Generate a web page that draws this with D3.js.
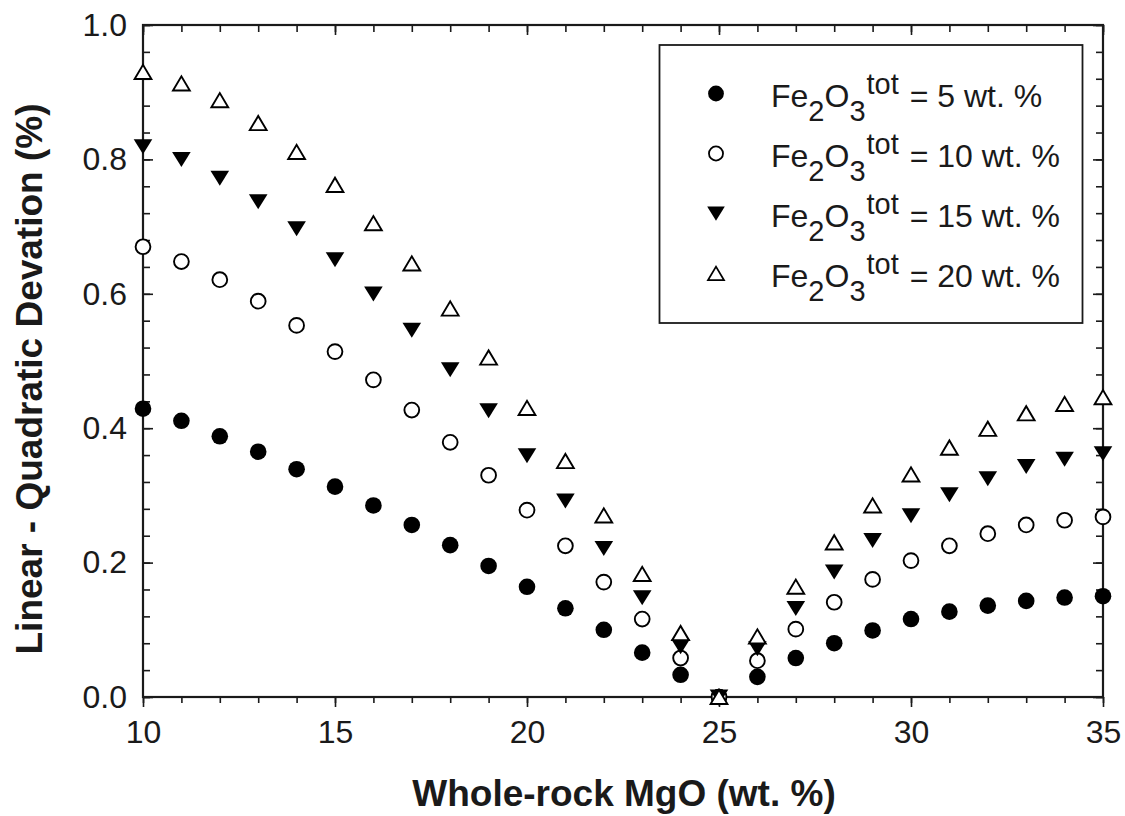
<!DOCTYPE html>
<html>
<head>
<meta charset="utf-8">
<script src="https://cdn.jsdelivr.net/npm/d3@7"></script>
<style>
  html, body { margin: 0; padding: 0; background: #fff; }
  svg { display: block; font-family: "Liberation Sans", Arial, Helvetica, sans-serif; }
</style>
</head>
<body>
<svg id="chart" width="1125" height="816"></svg>
<script>
// Whole-rock MgO (wt. %)
const mgo = [10, 11, 12, 13, 14, 15, 16, 17, 18, 19, 20, 21, 22, 23, 24, 25, 26, 27, 28, 29, 30, 31, 32, 33, 34, 35];

// Linear minus quadratic deviation (%) for each total Fe2O3 content
const fe5  = [0.429, 0.411, 0.388, 0.365, 0.339, 0.313, 0.285, 0.256, 0.226, 0.195, 0.164, 0.132, 0.100, 0.066, 0.033, 0.000, 0.030, 0.058, 0.080, 0.099, 0.116, 0.127, 0.136, 0.143, 0.148, 0.150];
const fe10 = [0.670, 0.648, 0.621, 0.589, 0.553, 0.514, 0.472, 0.427, 0.379, 0.330, 0.278, 0.225, 0.171, 0.116, 0.058, 0.000, 0.054, 0.101, 0.141, 0.175, 0.203, 0.225, 0.243, 0.256, 0.263, 0.268];
const fe15 = [0.819, 0.800, 0.772, 0.737, 0.697, 0.651, 0.600, 0.546, 0.487, 0.426, 0.359, 0.292, 0.221, 0.148, 0.075, 0.000, 0.072, 0.132, 0.186, 0.233, 0.270, 0.301, 0.325, 0.343, 0.354, 0.362];
const fe20 = [0.930, 0.913, 0.888, 0.854, 0.811, 0.762, 0.705, 0.645, 0.578, 0.505, 0.430, 0.351, 0.270, 0.183, 0.095, 0.000, 0.090, 0.164, 0.230, 0.285, 0.331, 0.371, 0.399, 0.422, 0.436, 0.446];

const seriesValues = [fe5, fe10, fe15, fe20];
const seriesFe = ["5", "10", "15", "20"];
const seriesSymbols = ["filledCircle", "openCircle", "filledDown", "openUp"];

const xTickValues = [10, 15, 20, 25, 30, 35];
const yTickValues = [0.0, 0.2, 0.4, 0.6, 0.8, 1.0];

const xTitle = "Whole-rock MgO (wt. %)";
const yTitle = "Linear - Quadratic Devation (%)";

const svg = d3.select("#chart");
const ink = "#1a1a1a";

const plotLeft = 143, plotRight = 1103, plotTop = 25, plotBottom = 697;
const x = d3.scaleLinear().domain([10, 35]).range([plotLeft, plotRight]);
const y = d3.scaleLinear().domain([0, 1]).range([plotBottom, plotTop]);

// symbol path generators (centred on 0,0)
function symbolPath(kind) {
  switch (kind) {
    case "filledCircle": { const p = d3.path(); p.arc(0, 0, 8.3, 0, 2 * Math.PI); return p.toString(); }
    case "openCircle":   { const p = d3.path(); p.arc(0, 0, 7.4, 0, 2 * Math.PI); return p.toString(); }
    case "filledDown":   return "M-9.3,-7.4L9.3,-7.4L0,7.6Z";
    case "openUp":       return "M-8.4,7L8.4,7L0,-7.2Z";
  }
}
function symbolStyle(sel, kind) {
  if (kind === "filledCircle" || kind === "filledDown") {
    sel.attr("fill", "#000").attr("stroke", "none");
  } else {
    sel.attr("fill", "#fff").attr("stroke", "#000").attr("stroke-width", 1.9);
  }
}

// tick positions
const minorX = d3.range(10, 35.001, 1);
const minorY = d3.range(0, 1.0001, 0.04).map(v => +v.toFixed(2));
const tickStroke = (g) => g.selectAll(".tick line").attr("stroke", ink).attr("stroke-width", 1.6);

// bottom axis: outward ticks with labels
const gBottom = svg.append("g").attr("transform", `translate(0,${plotBottom})`);
gBottom.call(d3.axisBottom(x).tickValues(minorX).tickSize(6).tickSizeOuter(0).tickFormat(""));
gBottom.append("g").call(d3.axisBottom(x).tickValues(xTickValues).tickSize(10).tickSizeOuter(0)
  .tickPadding(13).tickFormat(d3.format("d")));
gBottom.selectAll(".domain").remove();
tickStroke(gBottom);
gBottom.selectAll("text").attr("font-size", 32).attr("fill", ink).attr("font-family", null);

// left axis: inward ticks with labels
const gLeft = svg.append("g").attr("transform", `translate(${plotLeft},0)`);
gLeft.call(d3.axisLeft(y).tickValues(minorY).tickSize(-7).tickSizeOuter(0).tickFormat(""));
gLeft.append("g").call(d3.axisLeft(y).tickValues(yTickValues).tickSize(-10).tickSizeOuter(0)
  .tickPadding(16).tickFormat(d3.format(".1f")));
gLeft.selectAll(".domain").remove();
tickStroke(gLeft);
gLeft.selectAll("text").attr("font-size", 32).attr("fill", ink).attr("font-family", null);

// top axis: inward ticks, no labels
const gTop = svg.append("g").attr("transform", `translate(0,${plotTop})`);
gTop.call(d3.axisTop(x).tickValues(minorX).tickSize(-7).tickSizeOuter(0).tickFormat(""));
gTop.append("g").call(d3.axisTop(x).tickValues(xTickValues).tickSize(-10).tickSizeOuter(0).tickFormat(""));
gTop.selectAll(".domain").remove();
tickStroke(gTop);

// right axis: inward ticks, no labels
const gRight = svg.append("g").attr("transform", `translate(${plotRight},0)`);
gRight.call(d3.axisRight(y).tickValues(minorY).tickSize(-7).tickSizeOuter(0).tickFormat(""));
gRight.append("g").call(d3.axisRight(y).tickValues(yTickValues).tickSize(-10).tickSizeOuter(0).tickFormat(""));
gRight.selectAll(".domain").remove();
tickStroke(gRight);

// plot frame
svg.append("rect")
  .attr("x", plotLeft).attr("y", plotTop)
  .attr("width", plotRight - plotLeft).attr("height", plotBottom - plotTop)
  .attr("fill", "none").attr("stroke", ink).attr("stroke-width", 2.2);

// legend
const legX = 659.5, legY = 45, legW = 423, legH = 278;
svg.append("rect")
  .attr("x", legX).attr("y", legY).attr("width", legW).attr("height", legH)
  .attr("fill", "#fff").attr("stroke", ink).attr("stroke-width", 1.8);

const legRows = svg.append("g").selectAll("g")
  .data(seriesFe.map((fe, i) => ({ fe, kind: seriesSymbols[i], i })))
  .join("g")
  .attr("transform", d => `translate(0,${93.5 + d.i * 60})`);

legRows.append("path")
  .attr("transform", "translate(716,0) scale(0.95)")
  .attr("d", d => symbolPath(d.kind))
  .each(function (d) { symbolStyle(d3.select(this), d.kind); });

const legText = legRows.append("text")
  .attr("x", 771).attr("y", 13.5)
  .attr("font-size", 32).attr("fill", ink);
legText.append("tspan").text("Fe");
legText.append("tspan").attr("font-size", 29).attr("dy", 14).text("2");
legText.append("tspan").attr("dy", -14).text("O");
legText.append("tspan").attr("font-size", 29).attr("dy", 14).text("3");
legText.append("tspan").attr("font-size", 29).attr("dy", -27).attr("dx", 1).text("tot");
legText.append("tspan").attr("dy", 13).attr("dx", 2).text(d => ` = ${d.fe} wt. %`);

// data markers, one layer per series
seriesValues.forEach((vals, si) => {
  const kind = seriesSymbols[si];
  svg.append("g").selectAll("path")
    .data(mgo.map((m, i) => ({ m, v: vals[i] })))
    .join("path")
    .attr("transform", d => `translate(${x(d.m)},${y(d.v)})`)
    .attr("d", symbolPath(kind))
    .call(sel => symbolStyle(sel, kind));
});

// axis titles
svg.append("text")
  .attr("x", (plotLeft + plotRight) / 2 + 1).attr("y", 806)
  .attr("text-anchor", "middle")
  .attr("font-size", 37).attr("font-weight", "bold").attr("fill", ink)
  .text(xTitle);

svg.append("text")
  .attr("transform", "translate(42,379) rotate(-90)")
  .attr("text-anchor", "middle")
  .attr("font-size", 37).attr("font-weight", "bold").attr("fill", ink)
  .text(yTitle);
</script>
</body>
</html>
